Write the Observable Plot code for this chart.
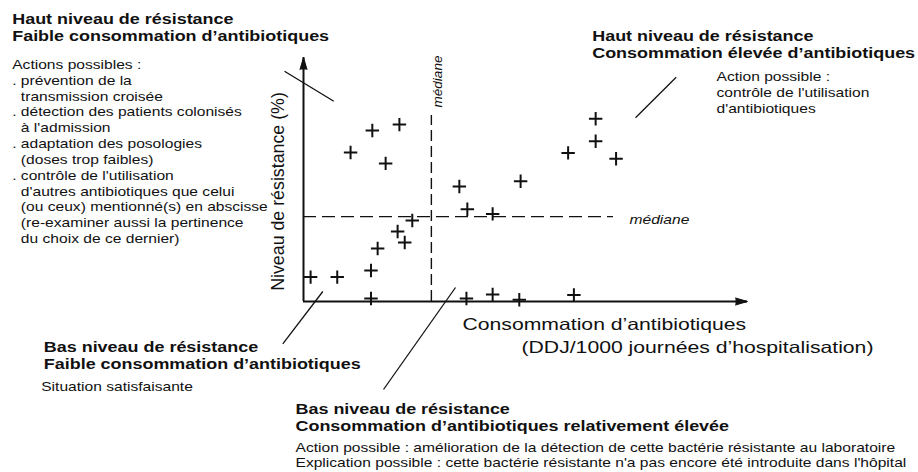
<!DOCTYPE html>
<html><head><meta charset="utf-8">
<script src="https://cdn.jsdelivr.net/npm/d3@7"></script>
<script src="https://cdn.jsdelivr.net/npm/@observablehq/plot@0.6"></script>
<style>
html,body{margin:0;padding:0;background:#fff;}
#chart{width:918px;height:472px;overflow:hidden;}
</style></head><body><div id="chart"></div>
<script>
// ---- data ----
const consommation = [10.6,15.5,21.6,18.5,24.5,21.2,22.8,16.7,15.2,1.6,7.6,15.2,35.1,36.9,42.6,48.9,59.6,65.8,65.8,70.4,36.7,42.6,48.6,60.9];
const resistance   = [61.1,70.1,72.5,56.6,33.2,28.7,24.2,21.7,12.7,10.0,10.0,1.2,47.1,37.8,35.9,49.3,60.9,74.9,65.7,58.5,1.2,2.9,0.7,2.7];
const medianeConsommation = 28.8;
const medianeResistance = 34.8;

// ---- texts ----
const axeX = ["Consommation d’antibiotiques", "(DDJ/1000 journées d’hospitalisation)"];
const axeY = "Niveau de résistance (%)";
const labelMediane = "médiane";
const titreHautFaible = ["Haut niveau de résistance", "Faible consommation d’antibiotiques"];
const actionsHautFaible = ["Actions possibles :", ". prévention de la", "transmission croisée", ". détection des patients colonisés", "à l'admission", ". adaptation des posologies", "(doses trop faibles)", ". contrôle de l'utilisation", "d'autres antibiotiques que celui", "(ou ceux) mentionné(s) en abscisse", "(re-examiner aussi la pertinence", "du choix de ce dernier)"];
const titreHautElevee = ["Haut niveau de résistance", "Consommation élevée d’antibiotiques"];
const actionsHautElevee = ["Action possible :", "contrôle de l'utilisation", "d'antibiotiques"];
const titreBasFaible = ["Bas niveau de résistance", "Faible consommation d’antibiotiques"];
const texteBasFaible = ["Situation satisfaisante"];
const titreBasElevee = ["Bas niveau de résistance", "Consommation d’antibiotiques relativement élevée"];
const texteBasElevee = ["Action possible : amélioration de la détection de cette bactérie résistante au laboratoire", "Explication possible : cette bactérie résistante n'a pas encore été introduite dans l'hôpital"];

// ---- layout ----
const W = 918, H = 472, mL = 303, mR = 171, mT = 57, mB = 171;
const xs = d3.scaleLinear([0, 100], [mL, W - mR]);
const ys = d3.scaleLinear([0, 100], [H - mB, mT]);
const px = v => xs.invert(v), py = v => ys.invert(v);
const FONT = "Liberation Sans, Arial, sans-serif";
const STRETCH = 1.3;

const points = consommation.map((x, i) => ({x, y: resistance[i]}));
// leader lines (annotation pointers), in pixel layout
const leaders = [
  [284, 70.7, 333.3, 100.7],
  [675.7, 76.7, 635, 117.3],
  [322.3, 291, 282.3, 343.3],
  [455, 287, 383, 389]
].map(([a, b, c, d]) => ({x1: px(a), y1: py(b), x2: px(c), y2: py(d)}));

const indent = lines => lines.map(l => (l.startsWith(".") || l.startsWith("Action")) ? l : "\u00a0\u00a0" + l);

function block(lines, x, lastBaseline, opts) {
  return Plot.text([lines.join("\n")], {
    x: px(x), y: py(lastBaseline), text: d => d,
    textAnchor: "start", lineAnchor: "bottom", fill: "#111",
    fontFamily: FONT, ...opts
  });
}
const bold = {fontSize: 13.8, fontWeight: "bold", lineHeight: 1.21};
const reg = {fontSize: 12, lineHeight: 1.32};
const regB = {fontSize: 12, lineHeight: 1.25};

const chart = Plot.plot({
  width: W, height: H,
  marginLeft: mL, marginRight: mR, marginTop: mT, marginBottom: mB,
  x: {domain: [0, 100], axis: null},
  y: {domain: [0, 100], axis: null},
  style: {background: "white", overflow: "visible", fontFamily: FONT},
  marks: [
    Plot.ruleX([medianeConsommation], {y1: 0, y2: py(115), stroke: "#111", strokeWidth: 1.4, strokeDasharray: "11,5"}),
    Plot.ruleY([medianeResistance], {x1: 0, x2: px(613), stroke: "#111", strokeWidth: 1.4, strokeDasharray: "13,6"}),
    Plot.ruleX([0], {stroke: "#111", strokeWidth: 2}),
    Plot.ruleY([0], {stroke: "#111", strokeWidth: 2}),
    Plot.vector([{x: 0, y: 100}], {x: "x", y: "y", shape: "spike", anchor: "end", length: 12, r: 3.5, rotate: 0, fill: "#111", stroke: "#111", strokeWidth: 1}),
    Plot.vector([{x: 100, y: 0}], {x: "x", y: "y", shape: "spike", anchor: "end", length: 12, r: 3.5, rotate: 90, fill: "#111", stroke: "#111", strokeWidth: 1}),
    Plot.dot(points, {x: "x", y: "y", symbol: "plus", r: 4.4, stroke: "#111", strokeWidth: 2}),
    Plot.link(leaders, {x1: "x1", y1: "y1", x2: "x2", y2: "y2", stroke: "#111", strokeWidth: 1.3}),
    // axis titles
    Plot.text([axeX[0]], {x: px(462), y: py(329.5), text: d => d, textAnchor: "start", lineAnchor: "bottom", fontSize: 16.3, fontFamily: FONT, fill: "#111"}),
    Plot.text([axeX[1]], {x: px(521), y: py(352.5), text: d => d, textAnchor: "start", lineAnchor: "bottom", fontSize: 16.3, fontFamily: FONT, fill: "#111"}),
    Plot.text([axeY], {x: px(283), y: py(191), text: d => d, rotate: -90, textAnchor: "middle", lineAnchor: "bottom", fontSize: 17.8, fontFamily: FONT, fill: "#111"}),
    // median labels
    Plot.text([labelMediane], {x: px(441), y: py(81), text: d => d, rotate: -90, textAnchor: "middle", lineAnchor: "bottom", fontSize: 13.5, fontStyle: "italic", fontFamily: FONT, fill: "#111"}),
    Plot.text([labelMediane], {x: px(629), y: py(223), text: d => d, textAnchor: "start", lineAnchor: "bottom", fontSize: 12, fontStyle: "italic", fontFamily: FONT, fill: "#111"}),
    // quadrant annotations
    block(titreHautFaible, 11.7, 40.2, bold),
    block(indent(actionsHautFaible), 11.7, 242.6, reg),
    block(titreHautElevee, 591.7, 57.3, bold),
    block(actionsHautElevee, 716, 112, reg),
    block(titreBasFaible, 43.3, 368.5, bold),
    block(texteBasFaible, 40.7, 390, reg),
    block(titreBasElevee, 295, 430, bold),
    block(texteBasElevee, 295, 466, regB)
  ]
});

// horizontal glyph stretch of the reference typography (non-rotated text only)
chart.querySelectorAll("text").forEach(t => {
  const tr = t.getAttribute("transform") || "";
  if (tr.includes("rotate")) return;
  t.setAttribute("transform", tr + ` scale(${STRETCH},1)`);
});
document.getElementById("chart").appendChild(chart);
</script>
</body></html>
